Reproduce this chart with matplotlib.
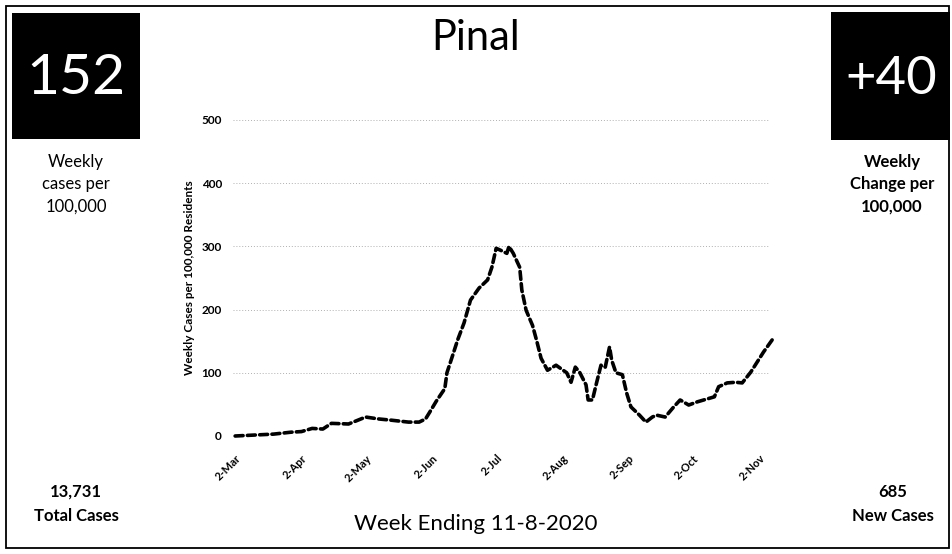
import matplotlib
matplotlib.use("Agg")
import matplotlib.pyplot as plt
from matplotlib.patches import Rectangle
import pandas as pd

# ---- data ----
dates = ["2020-03-02", "2020-03-20", "2020-03-28", "2020-04-02", "2020-04-07", "2020-04-12",
         "2020-04-16", "2020-04-24", "2020-05-02", "2020-05-08", "2020-05-14", "2020-05-22",
         "2020-05-27", "2020-05-30", "2020-06-01", "2020-06-04", "2020-06-08", "2020-06-09",
         "2020-06-12", "2020-06-14", "2020-06-17", "2020-06-20", "2020-06-24", "2020-06-28",
         "2020-06-30", "2020-07-02", "2020-07-04", "2020-07-07", "2020-07-08", "2020-07-10",
         "2020-07-13", "2020-07-14", "2020-07-16", "2020-07-19", "2020-07-21", "2020-07-23",
         "2020-07-26", "2020-07-30", "2020-08-04", "2020-08-06", "2020-08-08", "2020-08-10",
         "2020-08-13", "2020-08-14", "2020-08-16", "2020-08-18", "2020-08-20", "2020-08-22",
         "2020-08-23", "2020-08-24", "2020-08-25", "2020-08-27", "2020-08-30", "2020-09-01",
         "2020-09-03", "2020-09-07", "2020-09-10", "2020-09-13", "2020-09-15", "2020-09-19",
         "2020-09-23", "2020-09-26", "2020-09-30", "2020-10-04", "2020-10-09", "2020-10-12",
         "2020-10-14", "2020-10-18", "2020-10-22", "2020-10-25", "2020-10-29", "2020-11-01",
         "2020-11-04", "2020-11-08"]
weekly_cases = [0, 3, 6, 7, 12, 11,
                20, 19, 30, 27, 25, 22,
                22, 27, 38, 55, 75, 100,
                131, 152, 179, 215, 234, 247,
                267, 297, 294, 289, 300, 289,
                267, 231, 199, 175, 150, 123,
                104, 112, 100, 85, 109, 101,
                81, 57, 57, 85, 112, 109,
                125, 141, 120, 100, 97, 68,
                46, 33, 22, 30, 33, 30,
                46, 57, 49, 54, 59, 62,
                78, 84, 85, 84, 101, 117,
                133, 152]
tick_dates = ["2020-03-02", "2020-04-02", "2020-05-02", "2020-06-02", "2020-07-02",
              "2020-08-02", "2020-09-02", "2020-10-02", "2020-11-02"]
tick_labels = ["2-Mar", "2-Apr", "2-May", "2-Jun", "2-Jul", "2-Aug", "2-Sep", "2-Oct", "2-Nov"]
y_ticks = [0, 100, 200, 300, 400, 500]

county = "Pinal"
weekly_per_100k = "152"
weekly_change = "+40"
total_cases = "13,731"
new_cases = "685"
week_ending = "Week Ending 11-8-2020"

plt.rcParams['font.family'] = ['Lato', 'DejaVu Sans']

W, H = 952, 554
fig = plt.figure(figsize=(W / 100, H / 100), dpi=100)

def fx(px):
    return px / W

def fy(py):
    return 1 - py / H

# outer border
fig.patches.append(Rectangle((fx(6), fy(548)), fx(943), 542 / H, transform=fig.transFigure,
                             fill=False, edgecolor='black', linewidth=1.3))
# black boxes
fig.patches.append(Rectangle((fx(12), fy(139)), fx(128), 126 / H, transform=fig.transFigure,
                             facecolor='black', edgecolor='none'))
fig.patches.append(Rectangle((fx(831), fy(140)), fx(119), 128 / H, transform=fig.transFigure,
                             facecolor='black', edgecolor='none'))

fig.text(fx(76), fy(78), weekly_per_100k, color='white', fontsize=41, ha='center', va='center')
fig.text(fx(891), fy(79), weekly_change, color='white', fontsize=38, ha='center', va='center')

fig.text(fx(476), fy(38), county, fontsize=30, ha='center', va='center')

fig.text(fx(76), fy(184), "Weekly\ncases per\n100,000", fontsize=12, ha='center', va='center',
         linespacing=1.5)
fig.text(fx(892), fy(184), "Weekly\nChange per\n100,000", fontsize=12, ha='center', va='center',
         fontweight='bold', linespacing=1.5)

fig.text(fx(76), fy(492), total_cases, fontsize=12, ha='center', va='center', fontweight='bold')
fig.text(fx(76), fy(516), "Total Cases", fontsize=12, ha='center', va='center', fontweight='bold')
fig.text(fx(893), fy(492), new_cases, fontsize=12, ha='center', va='center', fontweight='bold')
fig.text(fx(893), fy(516), "New Cases", fontsize=12, ha='center', va='center', fontweight='bold')
fig.text(fx(476), fy(524), week_ending, fontsize=16, ha='center', va='center')

# chart
ax = fig.add_axes([fx(233), fy(436), fx(770) - fx(233), (436 - 120) / H])
x = pd.to_datetime(dates)
ax.plot(x, weekly_cases, color='black', linewidth=2.6, linestyle=(0, (2.2, 1.2)),
        dash_capstyle='round', clip_on=False, zorder=3)
ax.set_ylim(0, 500)
ax.set_xlim(pd.Timestamp("2020-03-01"), pd.Timestamp("2020-11-07"))
ax.set_yticks(y_ticks)
ax.set_yticklabels([str(v) for v in y_ticks], fontsize=8.5, fontweight='bold')
ax.set_xticks(pd.to_datetime(tick_dates))
ax.set_xticklabels(tick_labels, fontsize=8, fontweight='bold', rotation=45, ha='right',
                   rotation_mode='anchor')
ax.tick_params(axis='y', length=0, pad=8)
ax.tick_params(axis='x', length=0, pad=12)
for s in ax.spines.values():
    s.set_visible(False)
ax.yaxis.grid(True, color='#b0b0b0', linestyle=(0, (1, 2)), linewidth=0.7)
ax.set_axisbelow(True)
ax.set_ylabel("Weekly Cases per 100,000 Residents", fontsize=8.5, fontweight='bold', labelpad=5)

fig.savefig("out.png", dpi=100)
